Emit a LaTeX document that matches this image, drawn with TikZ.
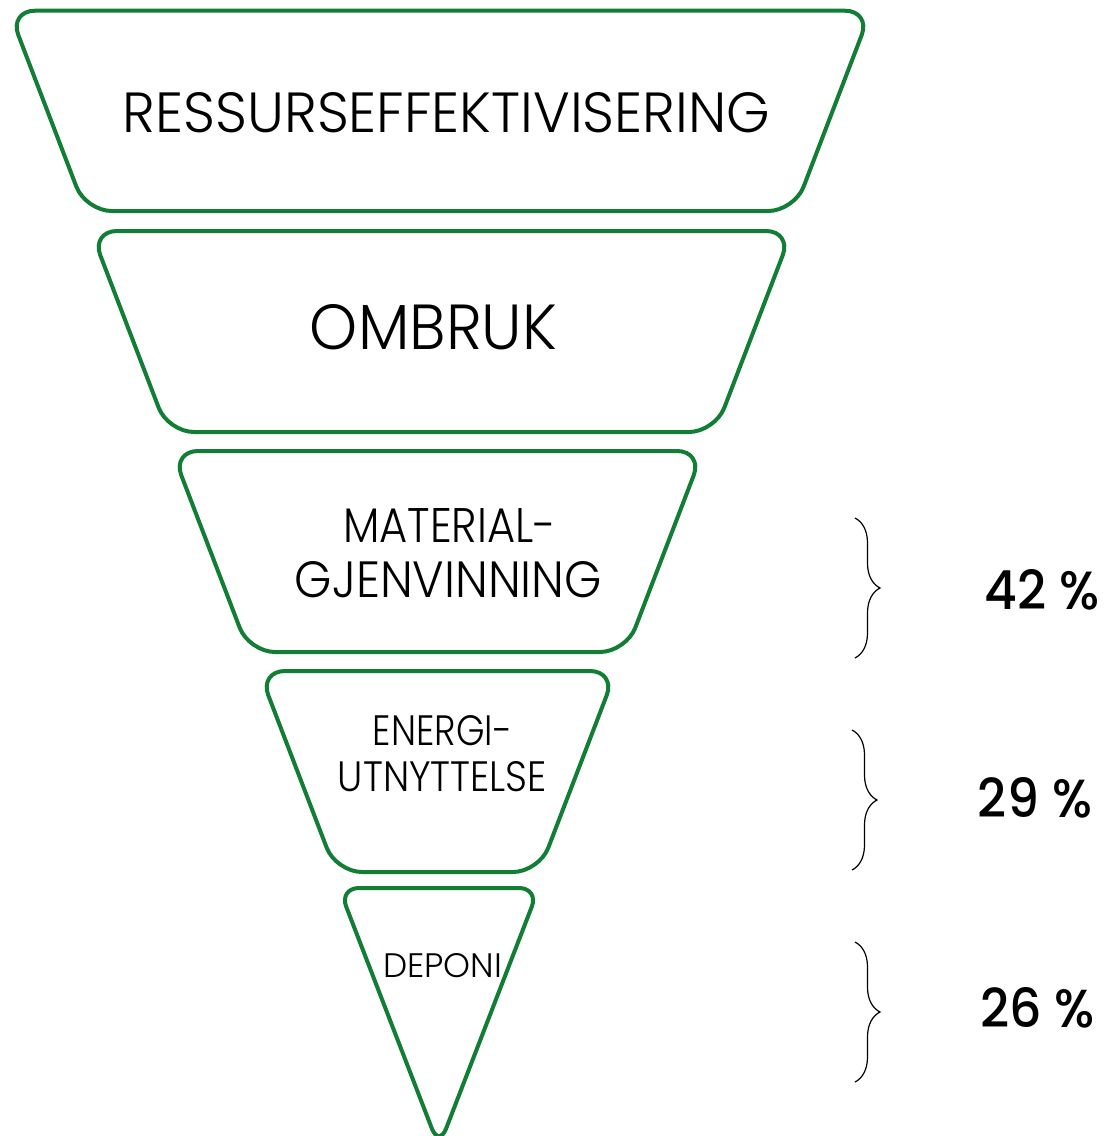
\documentclass[tikz,border=0pt]{standalone}
\usepackage{fontspec}
\usepackage{graphicx}
\setmainfont{Poppins}
\newfontfamily\lightfont{Poppins Light}
\newfontfamily\medfont{Poppins Medium}
\usetikzlibrary{decorations.pathreplacing}
\definecolor{framegreen}{RGB}{18,125,52}
\newcommand{\fitbox}[3]{\resizebox{#1pt}{#2pt}{#3}}
\begin{document}
\begin{tikzpicture}[x=1pt,y=-1pt,
  level/.style={draw=framegreen, line width=4pt, rounded corners=26pt, fill=white},
  lbl/.style={inner sep=0pt, font=\lightfont},
  pct/.style={inner sep=0pt, font=\medfont},
  brc/.style={decorate, decoration={brace, amplitude=25pt}, line width=1.2pt}]
\useasboundingbox (0,0) rectangle (1107,1136);
% levels
\draw[level] (440,10.7) -- (871,10.7) -- (794.3,211) -- (85.7,211) -- (9,10.7) -- cycle;
\draw[level] (441.5,231) -- (792,231) -- (715,432) -- (168,432) -- (91,231) -- cycle;
\draw[level] (437.5,451) -- (703,451) -- (626,652) -- (249,652) -- (172,451) -- cycle;
\draw[level] (437.5,671) -- (616,671) -- (539,872) -- (336,872) -- (259,671) -- cycle;
\draw[level,rounded corners=20pt] (439,888) -- (539,888) -- (439,1147) -- (339,888) -- cycle;
% labels
\node[lbl] (t1) at (446.5,113) {\fitbox{647}{40}{RESSURSEFFEKTIVISERING}};
\node[lbl] (t2) at (433.5,327.5) {\fitbox{247}{45}{OMBRUK}};
\node[lbl] (t3a) at (449.5,525) {\fitbox{213}{34}{MATERIAL-}};
\node[lbl] (t3b) at (448.5,580) {\fitbox{307}{36}{GJENVINNING}};
\node[lbl] (t4a) at (442.5,731) {\fitbox{139}{30}{ENERGI-}};
\node[lbl] (t4b) at (442.5,777) {\fitbox{209}{30}{UTNYTTELSE}};
\node[lbl] (t5) at (442.5,966) {\fitbox{119}{24}{DEPONI}};
% percentages
\node[pct] (p1) at (1042.5,590) {\fitbox{115}{40}{42 \%}};
\node[pct] (p2) at (1035,798) {\fitbox{114}{40}{29 \%}};
\node[pct] (p3) at (1037.5,1008) {\fitbox{115}{40}{26 \%}};
% braces
\coordinate (b1t) at (855,518); \coordinate (b1b) at (855,658);
\coordinate (b2t) at (852,730); \coordinate (b2b) at (852,870);
\coordinate (b3t) at (855,942); \coordinate (b3b) at (855,1082);
\draw[brc] (b1t) -- (b1b);
\draw[brc] (b2t) -- (b2b);
\draw[brc] (b3t) -- (b3b);
\end{tikzpicture}
\end{document}
